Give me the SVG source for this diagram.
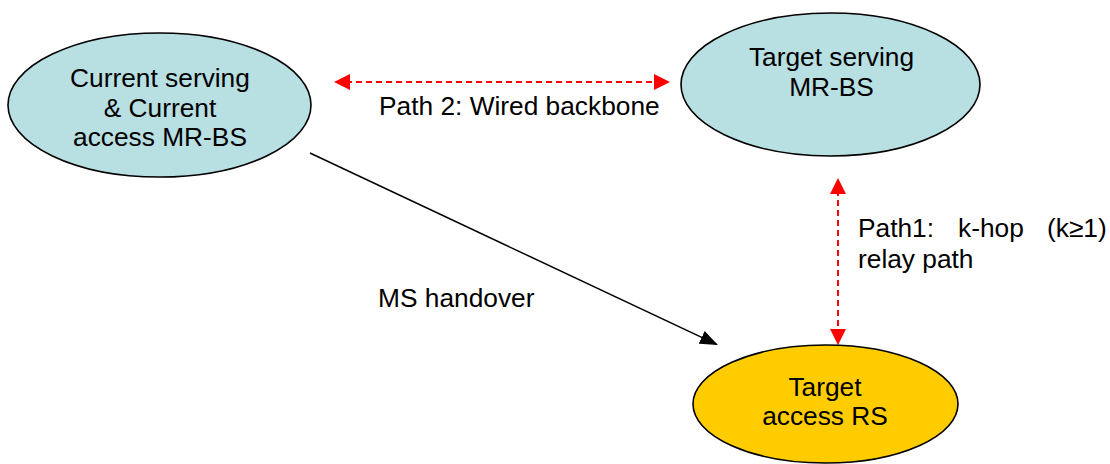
<svg xmlns="http://www.w3.org/2000/svg" width="1110" height="464" viewBox="0 0 1110 464">
<style>
text{font-family:"Liberation Sans",Arial,sans-serif;font-size:26.3px;fill:#000}
.c{text-anchor:middle}
.node{stroke:#000;stroke-width:1.6}
.blue{fill:#B8DFE2}
.yellow{fill:#FFCC00}
.red{stroke:#FF0000;stroke-width:2;stroke-dasharray:6 4;fill:none}
.blk{stroke:#000;stroke-width:1.5;fill:none}
</style>
<defs>
<marker id="ra" markerUnits="userSpaceOnUse" markerWidth="16" markerHeight="16" refX="14" refY="8" orient="auto-start-reverse">
<path d="M0,0 L16,8 L0,16 z" fill="#FF0000"/>
</marker>
<marker id="ba" markerUnits="userSpaceOnUse" markerWidth="18" markerHeight="14" refX="16.5" refY="7" orient="auto">
<path d="M0,0 L18,7 L0,14 z" fill="#000"/>
</marker>
</defs>
<g id="connectors">
<line class="red" x1="336" y1="82" x2="668" y2="82" marker-start="url(#ra)" marker-end="url(#ra)"/>
<line class="red" x1="838" y1="180" x2="838" y2="343" marker-start="url(#ra)" marker-end="url(#ra)"/>
<line class="blk" x1="310" y1="153" x2="716.6" y2="344.4" marker-end="url(#ba)"/>
<text x="379" y="115">Path 2: Wired backbone</text>
<text x="378" y="307">MS handover</text>
<text y="237"><tspan x="858">Path1:</tspan><tspan x="958">k-hop</tspan><tspan x="1047">(k≥1)</tspan></text>
<text x="858" y="268">relay path</text>
</g>
<g id="current-serving">
<ellipse class="node blue" cx="159.5" cy="105" rx="151.5" ry="72"/>
<text class="c" x="160" y="87">Current serving</text>
<text class="c" x="160" y="117">&amp; Current</text>
<text class="c" x="160" y="146">access MR-BS</text>
</g>
<g id="target-serving">
<ellipse class="node blue" cx="830.5" cy="84.5" rx="149.5" ry="71.5"/>
<text class="c" x="831.5" y="66">Target serving</text>
<text class="c" x="831.5" y="96">MR-BS</text>
</g>
<g id="target-access">
<ellipse class="node yellow" cx="825.5" cy="404" rx="132.5" ry="59"/>
<text class="c" x="825" y="396">Target</text>
<text class="c" x="825" y="425">access RS</text>
</g>
</svg>
